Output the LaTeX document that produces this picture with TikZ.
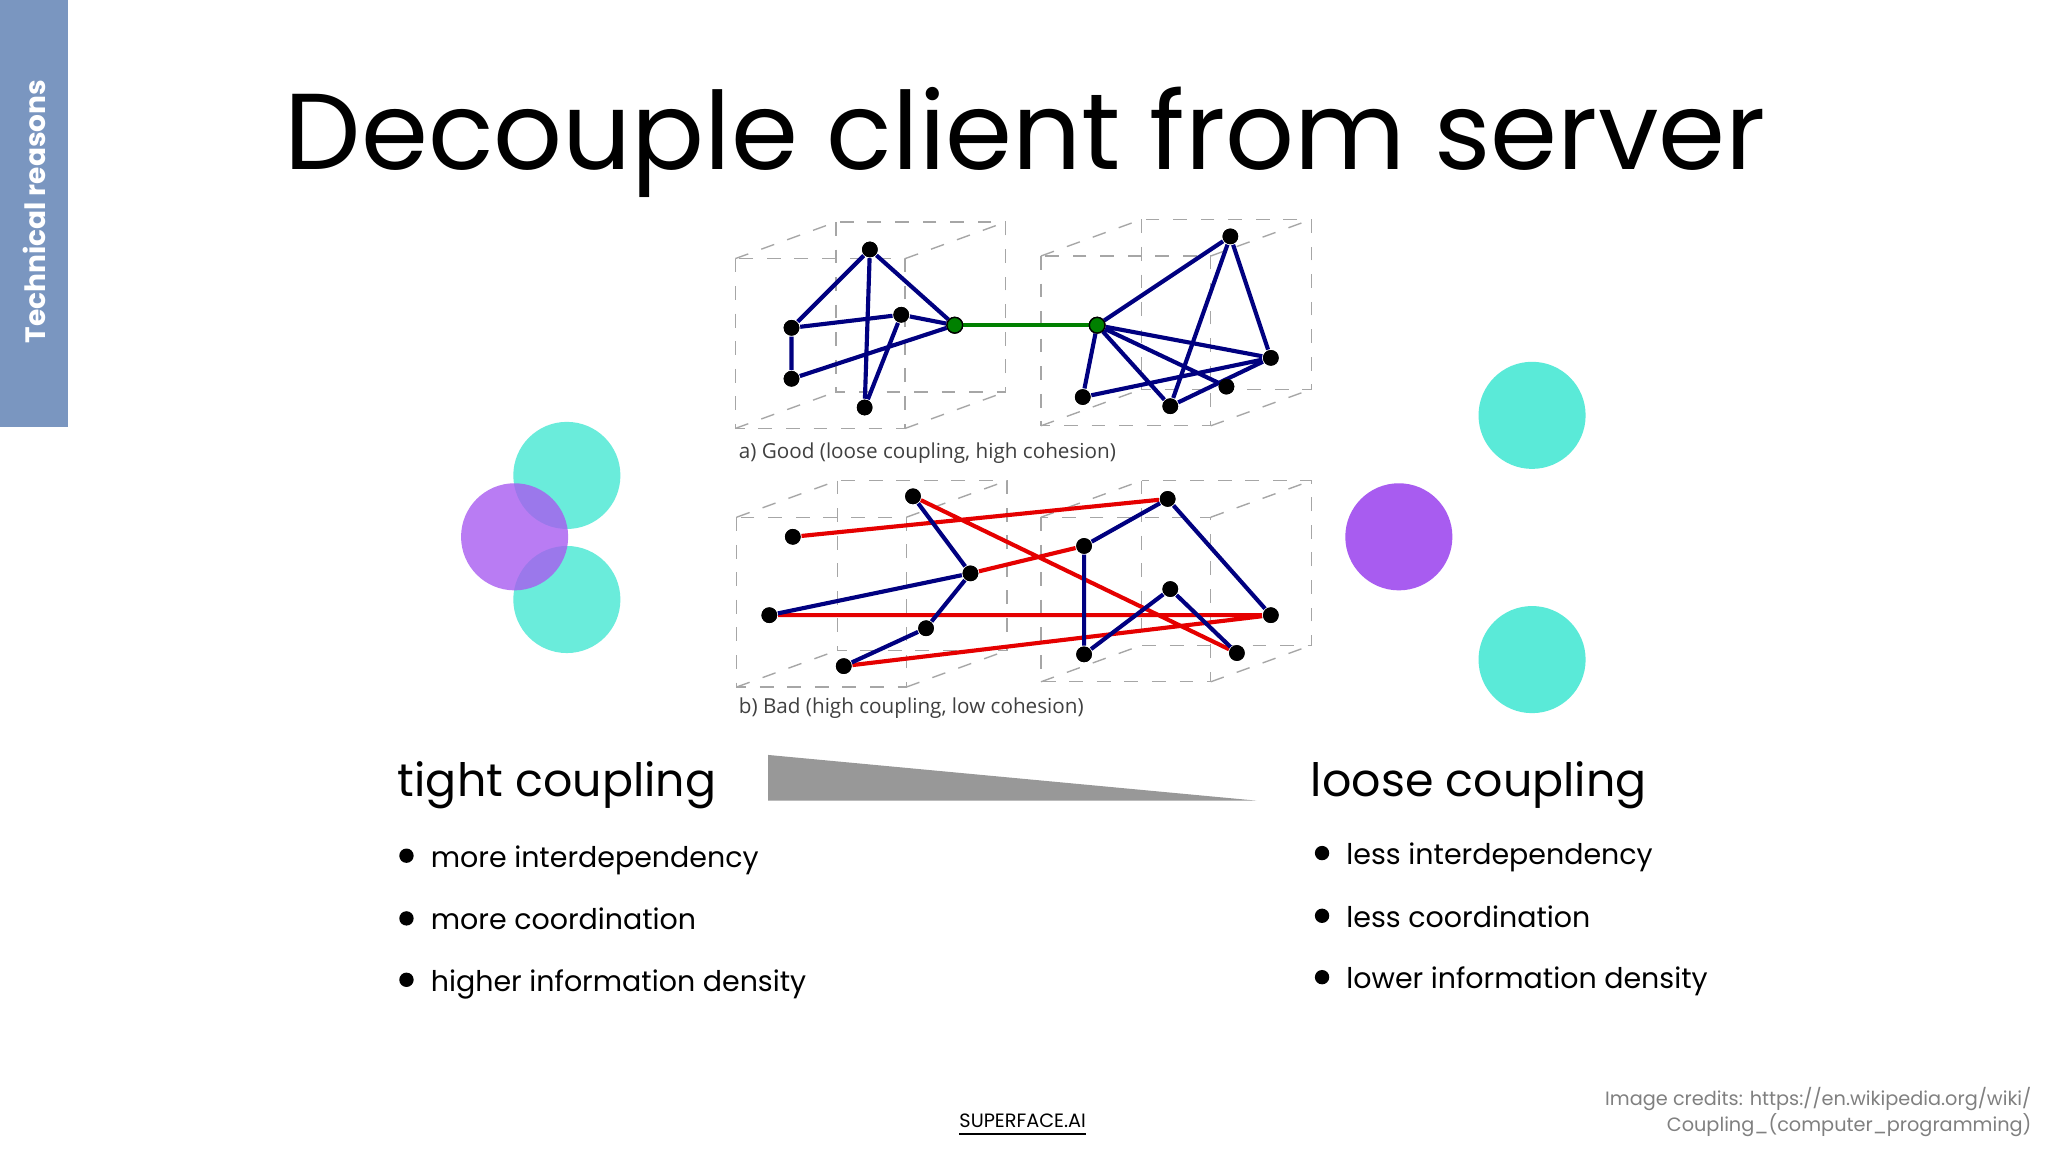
\documentclass[tikz,border=0pt]{standalone}
\usepackage{fontspec}
\setmainfont{Poppins}
\newfontfamily\capfont{Open Sans}
\begin{document}
\begin{tikzpicture}[x=0.01cm,y=-0.01cm,
  cube/.style={draw=gray!70,dashed,line width=0.3pt},
  bl/.style={draw=blue!50!black,line width=0.9pt},
  rd/.style={draw=red!90!black,line width=0.9pt},
  gr/.style={draw=green!50!black,line width=0.9pt},
  dot/.style={circle,fill=black,inner sep=0pt,minimum size=0.12cm},
  gdot/.style={circle,fill=green!50!black,draw=black,line width=0.3pt,inner sep=0pt,minimum size=0.12cm},
  teal/.style={fill={rgb,255:red,90;green,234;blue,216},opacity=0.9},
  purp/.style={fill={rgb,255:red,168;green,92;blue,240},opacity=0.8},
  bul/.style={anchor=base west,inner sep=0pt,font=\fontsize{6.2}{8}\selectfont},
  hd/.style={anchor=base west,inner sep=0pt,font=\fontsize{10}{12}\selectfont}]
\useasboundingbox (0,0) rectangle (1568,882);
\fill[white] (0,0) rectangle (1568,882);
\newcommand\bdot{\raisebox{0.28ex}{\tikz\fill (0,0) circle (0.055cm);}\hspace{1.1ex}}
% sidebar
\fill[fill={rgb,255:red,122;green,150;blue,192}] (0,0) rectangle (52,327);
\node[rotate=90,text=white,font=\fontsize{6.1}{7}\bfseries\selectfont] (side) at (26,162) {Technical reasons};
\node[font=\fontsize{23.5}{26}\selectfont,anchor=base,inner sep=0pt] (title) at (785,130) {Decouple client from server};
\newcommand\mycube[6]{% x y w h dx dy
  \draw[cube] (#1,#2) rectangle ++(#3,#4);
  \draw[cube] (#1+#5,#2+#6) rectangle ++(#3,#4);
  \draw[cube] (#1,#2)--++(#5,#6) (#1+#3,#2)--++(#5,#6) (#1,#2+#4)--++(#5,#6) (#1+#3,#2+#4)--++(#5,#6);}
\mycube{563}{198}{130}{130}{77}{-28}
\mycube{797}{196}{130}{130}{77}{-28}
\mycube{564}{396}{130}{130}{77}{-28}
\mycube{797}{396}{130}{126}{77}{-28}
% graph a
\node[dot] (a1) at (666,191) {}; \node[dot] (a2) at (606,251) {};
\node[dot] (a3) at (690,241) {}; \node[dot] (a4) at (606,290) {};
\node[dot] (a5) at (662,312) {}; \node[gdot] (ag) at (731,249) {};
\node[dot] (b1) at (942,181) {}; \node[dot] (b2) at (973,274) {};
\node[dot] (b3) at (829,304) {}; \node[dot] (b4) at (896,311) {};
\node[dot] (b5) at (939,296) {}; \node[gdot] (bg) at (840,249) {};
\draw[bl] (a1)--(a2) (a1)--(ag) (a1)--(a5) (a2)--(a3) (a2)--(a4) (a4)--(ag) (a3)--(a5) (a3)--(ag);
\draw[bl] (bg)--(b1) (b1)--(b4) (b1)--(b2) (bg)--(b2) (bg)--(b5) (bg)--(b4) (bg)--(b3) (b3)--(b2) (b4)--(b2);
\draw[gr] (ag)--(bg);
\foreach \n in {a1,a2,a3,a4,a5,b1,b2,b3,b4,b5} \node[dot] at (\n) {};
\node[gdot] at (ag) {}; \node[gdot] at (bg) {};
% graph b
\node[dot] (c1) at (607,411) {}; \node[dot] (c2) at (699,380) {};
\node[dot] (c3) at (743,439) {}; \node[dot] (c4) at (589,471) {};
\node[dot] (c5) at (709,481) {}; \node[dot] (c6) at (646,510) {};
\node[dot] (d1) at (894,382) {}; \node[dot] (d2) at (830,418) {};
\node[dot] (d3) at (896,451) {}; \node[dot] (d4) at (973,471) {};
\node[dot] (d5) at (830,501) {}; \node[dot] (d6) at (947,500) {};
\draw[rd] (c1)--(d1) (c2)--(d6) (c3)--(d2) (c4)--(d4) (c6)--(d4);
\draw[bl] (c2)--(c3) (c3)--(c4) (c3)--(c5) (c5)--(c6) (d2)--(d1) (d1)--(d4) (d2)--(d5) (d5)--(d3) (d3)--(d6);
\foreach \n in {c1,c2,c3,c4,c5,c6,d1,d2,d3,d4,d5,d6} \node[dot] at (\n) {};
\node[font=\capfont\fontsize{4.5}{6}\selectfont,anchor=base west,inner sep=0pt,text=black!75] (capa) at (565,351) {a) Good (loose coupling, high cohesion)};
\node[font=\capfont\fontsize{4.5}{6}\selectfont,anchor=base west,inner sep=0pt,text=black!75] (capb) at (565,546) {b) Bad (high coupling, low cohesion)};
% circles
\fill[teal] (434,364) circle (41); \fill[teal] (434,459) circle (41);
\fill[purp] (394,411) circle (41);
\fill[purp,opacity=1] (1071,411) circle (41);
\fill[teal,opacity=1] (1173,318) circle (41); \fill[teal,opacity=1] (1173,505) circle (41);
% wedge
\fill[gray!85!black!70] (588,578)--(588,613)--(962,613)--cycle;
\node[hd] (tc) at (304,610) {tight coupling};
\node[hd] (lc) at (1003,610) {loose coupling};
\node[bul] (t1) at (305,664) {\bdot more interdependency};
\node[bul] (t2) at (305,712) {\bdot more coordination};
\node[bul] (t3) at (305,759) {\bdot higher information density};
\node[bul] (l1) at (1006,662) {\bdot less interdependency};
\node[bul] (l2) at (1006,710) {\bdot less coordination};
\node[bul] (l3) at (1006,757) {\bdot lower information density};
\node[font=\fontsize{4.2}{5}\selectfont,anchor=base] (foot) at (783,863) {\underline{SUPERFACE.AI}};
\node[font=\fontsize{4.2}{5.7}\selectfont,text=gray,align=right,anchor=north east,inner sep=0pt] (cred) at (1556,832) {Image credits: https://en.wikipedia.org/wiki/\\Coupling\_(computer\_programming)};
\end{tikzpicture}
\end{document}
